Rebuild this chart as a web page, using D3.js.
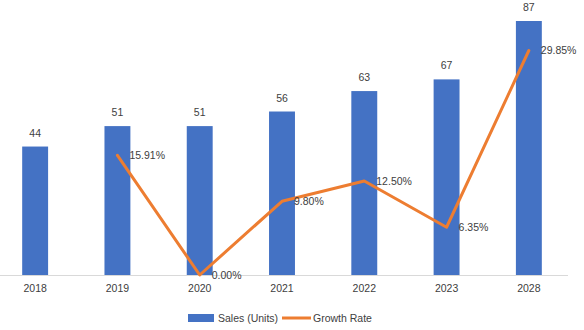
<!DOCTYPE html>
<html><head><meta charset="utf-8">
<script src="https://cdn.jsdelivr.net/npm/d3@7"></script>
<style>body{margin:0;background:#fff}svg{display:block}text{font-family:"Liberation Sans",Arial,sans-serif;fill:#404040}</style>
</head><body>
<svg id="c" width="584" height="330"></svg>
<script>
const years = ["2018","2019","2020","2021","2022","2023","2028"];
const sales = [44,51,51,56,63,67,87];
const growth = [null,15.91,0.00,9.80,12.50,6.35,29.85];
const growthLabels = ["","15.91%","0.00%","9.80%","12.50%","6.35%","29.85%"];
const seriesNames = ["Sales (Units)","Growth Rate"];

const svg = d3.select("#c");
const fs = "10.5px";
const x = d3.scaleBand().domain(years).range([-6, 570]).paddingInner(0.685).paddingOuter(0.3425);
const y = d3.scaleLinear().domain([0, 87]).range([275, 21]);
const y2 = d3.scaleLinear().domain([0, 29.85]).range([275, 50.5]);

svg.selectAll("rect.bar").data(years).enter().append("rect")
  .attr("x", d => x(d)).attr("width", x.bandwidth())
  .attr("y", (d,i) => y(sales[i])).attr("height", (d,i) => y(0) - y(sales[i]))
  .attr("fill", "#4472C4");

svg.append("line").attr("x1", 0).attr("x2", 568).attr("y1", 275.5).attr("y2", 275.5)
  .attr("stroke", "#d9d9d9").attr("stroke-width", 1);

const xAxis = svg.append("g").attr("transform", "translate(0,275)")
  .call(d3.axisBottom(x).tickSize(0).tickPadding(10));
xAxis.select(".domain").remove();
xAxis.selectAll("text").style("font-size", fs).style("font-family", "Liberation Sans, Arial, sans-serif").attr("fill", "#404040");

svg.selectAll("text.sl").data(years).enter().append("text")
  .attr("x", d => x(d) + x.bandwidth()/2).attr("y", (d,i) => y(sales[i]) - 10)
  .attr("text-anchor", "middle").style("font-size", fs).text((d,i) => sales[i]);

const pts = years.map((d,i) => ({d, v: growth[i], l: growthLabels[i]})).filter(p => p.v !== null);
const line = d3.line().x(p => x(p.d) + x.bandwidth()/2).y(p => y2(p.v));
svg.append("path").datum(pts).attr("d", line).attr("fill", "none")
  .attr("stroke", "#ED7D31").attr("stroke-width", 3).attr("stroke-linejoin", "round").attr("stroke-linecap", "round");

svg.selectAll("text.gl").data(pts).enter().append("text")
  .attr("x", p => x(p.d) + x.bandwidth()/2 + 12).attr("y", p => y2(p.v))
  .attr("dy", "0.35em").style("font-size", fs).text(p => p.l);

// legend
const lg = svg.append("g");
lg.append("rect").attr("x", 188).attr("y", 314).attr("width", 26).attr("height", 8).attr("fill", "#4472C4");
lg.append("text").attr("x", 218).attr("y", 318).attr("dy", "0.35em").style("font-size", fs).text(seriesNames[0]);
lg.append("line").attr("x1", 282).attr("x2", 311).attr("y1", 318).attr("y2", 318).attr("stroke", "#ED7D31").attr("stroke-width", 3);
lg.append("text").attr("x", 313).attr("y", 318).attr("dy", "0.35em").style("font-size", fs).text(seriesNames[1]);
</script>
</body></html>
